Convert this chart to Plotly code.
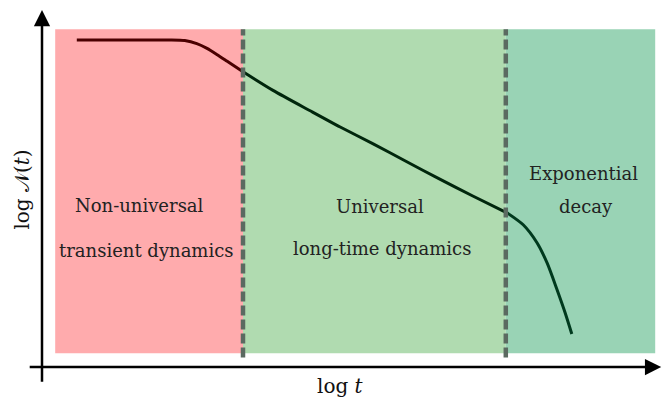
import plotly.graph_objects as go

# Regime boundaries along log t, and the vertical extent of the shaded bands (log N units)
band_edges = [0.22, 3.35, 7.73, 10.22]
band_bottom, band_top = 0.23, 5.63
band_colors = ["#ffabad", "#b0dbb0", "#99d3b5"]

# Decay curve: log N(t) against log t, one list per regime
logt_transient = [0.58, 1.0, 1.4, 1.8, 2.13, 2.38, 2.58, 2.75, 2.92, 3.08, 3.35]
logN_transient = [5.45, 5.45, 5.45, 5.45, 5.45, 5.44, 5.39, 5.31, 5.205, 5.10, 4.92]
logt_universal = [3.35, 3.85, 4.47, 4.97, 5.52, 6.08, 6.63, 7.18, 7.75]
logN_universal = [4.92, 4.61, 4.27, 4.00, 3.72, 3.42, 3.13, 2.85, 2.57]
logt_expo = [7.75, 8.02, 8.25, 8.42, 8.58, 8.72, 8.83]
logN_expo = [2.57, 2.37, 2.07, 1.73, 1.30, 0.90, 0.55]
curve_colors = ["#4a0000", "#00260c", "#003a1e"]

# Region captions: (text, log t, log N)
captions = [
    ("Non-universal", 1.62, 2.70),
    ("transient dynamics", 1.74, 1.95),
    ("Universal", 5.63, 2.67),
    ("long-time dynamics", 5.67, 1.98),
    ("Exponential", 9.03, 3.23),
    ("decay", 9.07, 2.68),
]

FONT = "DejaVu Serif"

fig = go.Figure()

segments = [
    (logt_transient, logN_transient),
    (logt_universal, logN_universal),
    (logt_expo, logN_expo),
]
for (xs, ys), col in zip(segments, curve_colors):
    fig.add_trace(go.Scatter(
        x=xs, y=ys, mode="lines",
        line=dict(color=col, width=3, shape="spline", smoothing=0.7),
        hoverinfo="skip", showlegend=False,
    ))

shapes = []
for i, col in enumerate(band_colors):
    shapes.append(dict(
        type="rect", xref="x", yref="y", layer="below",
        x0=band_edges[i], x1=band_edges[i + 1], y0=band_bottom, y1=band_top,
        fillcolor=col, line=dict(width=0),
    ))
for xb in band_edges[1:3]:
    shapes.append(dict(
        type="line", xref="x", yref="y", layer="above",
        x0=xb, x1=xb, y0=band_bottom - 0.07, y1=band_top,
        line=dict(color="#5b6a61", width=4.5, dash="10px,4px"),
    ))

annotations = []
for text, x, y in captions:
    annotations.append(dict(
        x=x, y=y, xref="x", yref="y", text=text, showarrow=False,
        font=dict(family=FONT, size=18, color="#222222"),
        xanchor="center", yanchor="middle",
    ))

# Axis arrows
annotations.append(dict(
    x=10.32, y=0.0, ax=-0.23, ay=0.0, xref="x", yref="y", axref="x", ayref="y",
    text="", showarrow=True, arrowhead=2, arrowsize=1.3, arrowwidth=2.5,
    arrowcolor="black", standoff=0,
))
annotations.append(dict(
    x=0.0, y=5.95, ax=0.0, ay=-0.27, xref="x", yref="y", axref="x", ayref="y",
    text="", showarrow=True, arrowhead=2, arrowsize=1.3, arrowwidth=2.5,
    arrowcolor="black", standoff=0,
))

# Axis titles
annotations.append(dict(
    x=4.97, y=-0.31, xref="x", yref="y", text="log <i>t</i>", showarrow=False,
    font=dict(family=FONT, size=20, color="#111111"),
    xanchor="center", yanchor="middle",
))
annotations.append(dict(
    x=-0.34, y=2.95, xref="x", yref="y", text="log 𝒩(<i>t</i>)", showarrow=False,
    font=dict(family=FONT, size=20, color="#111111"), textangle=-90,
    xanchor="center", yanchor="middle",
))

fig.update_layout(
    width=670, height=399,
    margin=dict(l=0, r=0, t=0, b=0),
    paper_bgcolor="white", plot_bgcolor="white",
    xaxis=dict(range=[-0.7, 10.4667], visible=False, fixedrange=True),
    yaxis=dict(range=[-0.5333, 6.1167], visible=False, fixedrange=True),
    shapes=shapes, annotations=annotations,
)

fig.write_html("out.html")
